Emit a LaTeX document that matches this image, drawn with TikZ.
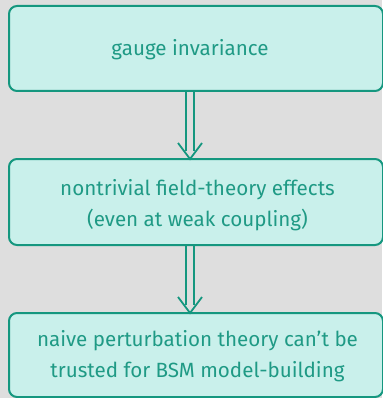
\documentclass[tikz,border=0pt]{standalone}
\usepackage{fontspec}
\setmainfont{Fira Sans}[Scale=1]
\usetikzlibrary{calc}
\definecolor{bgc}{HTML}{DEDEDE}
\definecolor{edgec}{HTML}{15977F}
\definecolor{fillc}{HTML}{C9F0EB}
\definecolor{txtc}{HTML}{1F9A85}
\begin{document}
\begin{tikzpicture}[x=1pt,y=1pt,
  boxst/.style={draw=edgec, fill=fillc, line width=2pt, rounded corners=8pt},
  lbl/.style={text=txtc, font=\fontsize{20.6}{31.5}\selectfont, align=center},
  shaft/.style={draw=edgec, line width=1.8pt}]
\useasboundingbox (0,0) rectangle (382,-398);
\fill[bgc] (0,0) rectangle (382,-398);
\path[boxst] (9,-6) rectangle (383,-91);
\path[boxst] (9,-159) rectangle (383,-245);
\path[boxst] (9,-313) rectangle (383,-397);
\node[lbl] (a) at (190,-50) {gauge invariance};
\node[lbl] (b) at (197.5,-205) {nontrivial field-theory effects\\(even at weak coupling)};
\node[lbl] (c) at (197.5,-356) {naive perturbation theory can’t be\\trusted for BSM model-building};
\coordinate (a1) at (190,-91);
\coordinate (b1) at (190,-159);
\coordinate (b2) at (190,-245);
\coordinate (c1) at (190,-313);
\foreach \s/\t in {a1/b1, b2/c1}{
  \draw[shaft] ($(\s)+(-4,0)$) -- ($(\t)+(-4,8)$);
  \draw[shaft] ($(\s)+(4,0)$) -- ($(\t)+(4,8)$);
  \draw[shaft, line join=miter] ($(\t)+(-12,16)$) -- (\t) -- ($(\t)+(12,16)$);
}
\end{tikzpicture}
\end{document}
